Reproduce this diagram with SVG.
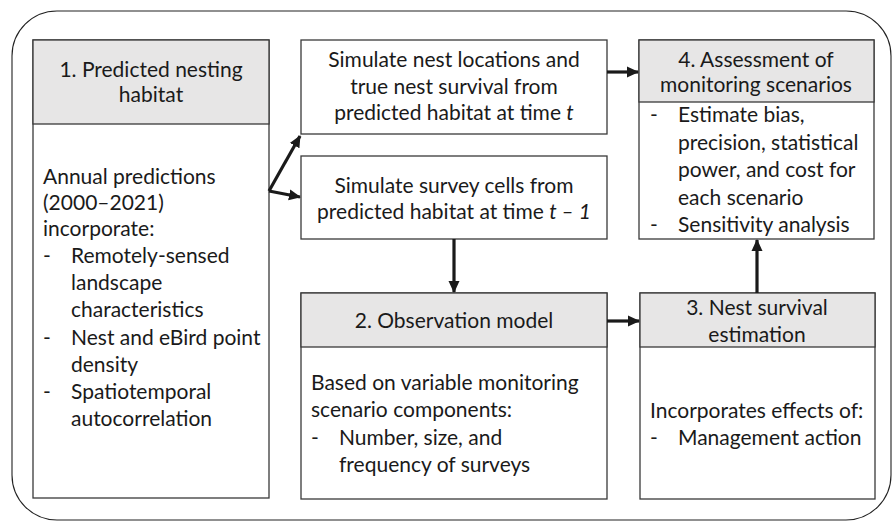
<svg xmlns="http://www.w3.org/2000/svg" width="895" height="522" viewBox="0 0 895 522">
<defs>
<style>
text{font-family:Lato,"Open Sans","Liberation Sans",sans-serif;font-size:21px;fill:#1a1a1a}
.c{text-anchor:middle}
.box{fill:#fff;stroke:#3a3a3a;stroke-width:1.3}
.hdr{fill:#e7e6e6;stroke:#3a3a3a;stroke-width:1.3}
.arr{fill:none;stroke:#1a1a1a;stroke-width:3.2;marker-end:url(#ah)}
</style>
<marker id="ah" markerUnits="userSpaceOnUse" markerWidth="12" markerHeight="12" viewBox="0 0 12 12" refX="11" refY="6" orient="auto">
<path d="M0,0.5 L12,6 L0,11.5 Z" fill="#1a1a1a"/>
</marker>
</defs>
<rect x="12" y="11" width="879" height="509" rx="45" ry="45" fill="none" stroke="#222" stroke-width="1.1"/>

<g id="node1">
<rect class="box" x="33" y="40" width="236" height="458"/>
<rect class="hdr" x="33" y="40" width="236" height="84"/>
<text class="c" x="151" y="77">1. Predicted nesting</text>
<text class="c" x="151" y="102">habitat</text>
<text x="43" y="184">Annual predictions</text>
<text x="43" y="210">(2000–2021)</text>
<text x="43" y="236">incorporate:</text>
<text x="43" y="263">-</text><text x="71" y="263">Remotely-sensed</text>
<text x="71" y="290">landscape</text>
<text x="71" y="317">characteristics</text>
<text x="43" y="345">-</text><text x="71" y="345">Nest and eBird point</text>
<text x="71" y="372">density</text>
<text x="43" y="399">-</text><text x="71" y="399">Spatiotemporal</text>
<text x="71" y="426">autocorrelation</text>
</g>

<g id="simNest">
<rect class="box" x="301" y="40" width="306" height="94"/>
<text class="c" x="454" y="67">Simulate nest locations and</text>
<text class="c" x="454" y="94">true nest survival from</text>
<text class="c" x="454" y="120">predicted habitat at time <tspan font-style="italic">t</tspan></text>
</g>

<g id="simSurvey">
<rect class="box" x="301" y="156" width="306" height="83"/>
<text class="c" x="454" y="193">Simulate survey cells from</text>
<text class="c" x="454" y="219">predicted habitat at time <tspan font-style="italic">t – 1</tspan></text>
</g>

<g id="node4">
<rect class="box" x="639" y="40" width="235" height="199"/>
<rect class="hdr" x="639" y="40" width="235" height="62"/>
<text class="c" x="756" y="67">4. Assessment of</text>
<text class="c" x="756" y="92">monitoring scenarios</text>
<text x="650" y="122">-</text><text x="678" y="122">Estimate bias,</text>
<text x="678" y="150">precision, statistical</text>
<text x="678" y="177">power, and cost for</text>
<text x="678" y="205">each scenario</text>
<text x="650" y="232">-</text><text x="678" y="232">Sensitivity analysis</text>
</g>

<g id="node2">
<rect class="box" x="301" y="293" width="306" height="206"/>
<rect class="hdr" x="301" y="293" width="306" height="54"/>
<text class="c" x="454" y="328">2. Observation model</text>
<text x="311" y="390">Based on variable monitoring</text>
<text x="311" y="417">scenario components:</text>
<text x="311" y="445">-</text><text x="339" y="445">Number, size, and</text>
<text x="339" y="472">frequency of surveys</text>
</g>

<g id="node3">
<rect class="box" x="640" y="293" width="235" height="206"/>
<rect class="hdr" x="640" y="293" width="235" height="54"/>
<text class="c" x="757" y="315">3. Nest survival</text>
<text class="c" x="757" y="342">estimation</text>
<text x="650" y="418">Incorporates effects of:</text>
<text x="650" y="445">-</text><text x="678" y="445">Management action</text>
</g>

<g id="connectors">
<path class="arr" d="M269,191 L300,136"/>
<path class="arr" d="M269,191 L300,197"/>
<path class="arr" d="M607,72 L638,72"/>
<path class="arr" d="M454,239 L454,292"/>
<path class="arr" d="M607,321 L639,321"/>
<path class="arr" d="M757,293 L757,240"/>
</g>
</svg>
